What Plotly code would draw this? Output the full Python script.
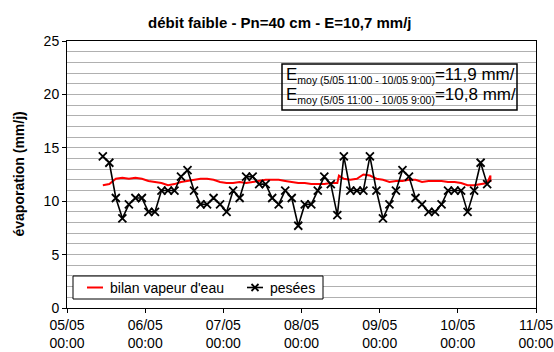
import pandas as pd
import plotly.graph_objects as go

# Weighed evaporation (mm/j), one value every 2 h from 05/05 11:00 to 10/05 9:00
pesees_mm = [
    14.2, 13.6, 10.3, 8.4, 9.7, 10.3, 10.3, 9.0, 9.0, 11.0,
    11.0, 11.0, 12.3, 12.9, 11.0, 9.7, 9.7, 10.3, 9.7, 9.0,
    11.0, 10.3, 12.3, 12.3, 11.6, 11.6, 10.3, 9.7, 11.0, 10.3,
    7.7, 9.7, 9.7, 11.0, 12.3, 11.6, 8.7, 14.2, 11.0, 11.0,
    11.0, 14.2, 11.0, 8.4, 9.7, 11.0, 12.9, 12.3, 10.3, 9.7,
    9.0, 9.0, 9.7, 11.0, 11.0, 11.0, 9.0, 11.0, 13.6, 11.6,
]

# Water-vapour balance, hours after 05/05 00:00 and evaporation (mm/j)
bilan_hours = list(range(11, 84, 2)) + [83.5] + list(range(85, 130, 2)) + [130, 130]
bilan_mm = [
    11.5, 11.6, 12.1, 12.2, 12.1, 12.2, 12.1, 11.9, 11.8, 11.7,
    11.5, 11.6, 11.8, 11.9, 12.0, 12.1, 12.1, 12.0, 11.8, 11.7,
    11.7, 11.8, 11.7, 11.8, 11.9, 12.0, 12.0, 12.0, 11.9, 11.8,
    11.7, 11.7, 11.6, 11.6, 11.6, 11.7, 11.7,
    12.4,
    12.1, 12.0, 12.1, 12.5, 12.4, 12.1, 12.0, 11.8, 11.9, 11.9,
    12.0, 12.0, 11.8, 11.9, 11.9, 11.9, 11.8, 11.8, 11.7, 11.5,
    11.5, 11.6, 11.7,
    12.4, 11.8,
]

title_text = "débit faible - Pn=40 cm - E=10,7 mm/j"
y_title = "évaporation (mm/j)"
period = "moy (5/05 11:00 - 10/05 9:00)"
mean_labels = ["=11,9 mm/", "=10,8 mm/"]
series_names = ["bilan vapeur d'eau", "pesées"]
series_colors = ["#ff0000", "#000000"]

day0 = pd.Timestamp("2006-05-05 00:00")
pesees_time = pd.date_range(day0 + pd.Timedelta(hours=11), periods=len(pesees_mm), freq="2h")
bilan_time = [day0 + pd.Timedelta(hours=h) for h in bilan_hours]

FONT = "Arial, Liberation Sans, sans-serif"
W, H = 554, 352
L, R, T, B = 67, 18, 41, 44
PW, PH = W - L - R, H - T - B


def px(x):
    """pixel column -> paper x"""
    return (x - L) / PW


def py(y):
    """pixel row -> paper y"""
    return (H - B - y) / PH


fig = go.Figure()
fig.add_trace(go.Scatter(
    x=bilan_time, y=bilan_mm, mode="lines", name=series_names[0],
    line=dict(color=series_colors[0], width=2),
))
fig.add_trace(go.Scatter(
    x=pesees_time, y=pesees_mm, mode="lines+markers", name=series_names[1],
    line=dict(color=series_colors[1], width=1.6),
    marker=dict(symbol="x-thin-open", size=8, color=series_colors[1],
                line=dict(color=series_colors[1], width=1.8)),
))

fig.update_layout(
    width=W, height=H,
    margin=dict(l=L, r=R, t=T, b=B),
    paper_bgcolor="white", plot_bgcolor="white",
    font=dict(family=FONT, size=14, color="black"),
    title=dict(text="<b>" + title_text + "</b>", x=0.505, y=1 - 23 / H,
               xanchor="center", yanchor="middle",
               font=dict(family=FONT, size=15, color="black")),
    showlegend=False,
)

fig.update_xaxes(
    type="date", range=[day0, day0 + pd.Timedelta(days=6)],
    dtick=86400000, tick0=day0, tickformat="%d/%m<br>%H:%M",
    showline=True, linecolor="black", linewidth=1, mirror=True,
    ticks="outside", ticklen=4, tickcolor="black",
    showgrid=False, zeroline=False, automargin=False,
    tickfont=dict(family=FONT, size=14),
)
fig.update_yaxes(
    range=[0, 25], dtick=5, tick0=0,
    showline=True, linecolor="black", linewidth=1, mirror=True,
    ticks="outside", ticklen=4, tickcolor="black",
    showgrid=True, gridcolor="#b0b0b0", gridwidth=1, zeroline=False,
    minor=dict(dtick=1, showgrid=True, gridcolor="#b0b0b0", gridwidth=1),
    automargin=False,
    tickfont=dict(family=FONT, size=14),
)

# y-axis title
fig.add_annotation(
    text="<b>" + y_title + "</b>", xref="paper", yref="paper",
    x=px(18), y=0.5, xanchor="center", yanchor="middle",
    textangle=-90, showarrow=False, font=dict(family=FONT, size=14),
)

# Mean evaporation box
fig.add_shape(type="rect", xref="paper", yref="paper",
              x0=px(282), x1=px(517), y0=py(110), y1=py(64),
              line=dict(color="black", width=1.5), fillcolor="rgba(0,0,0,0)")
for yc, lab in zip([75, 96], mean_labels):
    fig.add_annotation(
        text="E<sub><span style='font-size:10.5px'>" + period + "</span></sub>" + lab,
        xref="paper", yref="paper", x=px(284), y=py(yc),
        xanchor="left", yanchor="middle", showarrow=False,
        font=dict(family=FONT, size=17),
    )

# Legend box
fig.add_shape(type="rect", xref="paper", yref="paper",
              x0=px(73), x1=px(323), y0=py(299), y1=py(276),
              line=dict(color="black", width=1), fillcolor="white", layer="above")
ly = 287.5
for (x0, x1, tx), name, col in zip([(87, 103, 108), (247, 263, 268)], series_names, series_colors):
    fig.add_shape(type="line", xref="paper", yref="paper",
                  x0=px(x0), x1=px(x1), y0=py(ly), y1=py(ly),
                  line=dict(color=col, width=2 if col == "#ff0000" else 1.6), layer="above")
    fig.add_annotation(text=name, xref="paper", yref="paper", x=px(tx), y=py(ly),
                       xanchor="left", yanchor="middle", showarrow=False,
                       font=dict(family=FONT, size=14))
# cross marker on the "pesées" legend sample
cx, s = 255, 3.5
fig.add_shape(type="path", xref="paper", yref="paper", layer="above",
              path=(f"M {px(cx - s)} {py(ly - s)} L {px(cx + s)} {py(ly + s)} "
                    f"M {px(cx - s)} {py(ly + s)} L {px(cx + s)} {py(ly - s)}"),
              line=dict(color="black", width=1.8))

fig.write_html("out.html")
